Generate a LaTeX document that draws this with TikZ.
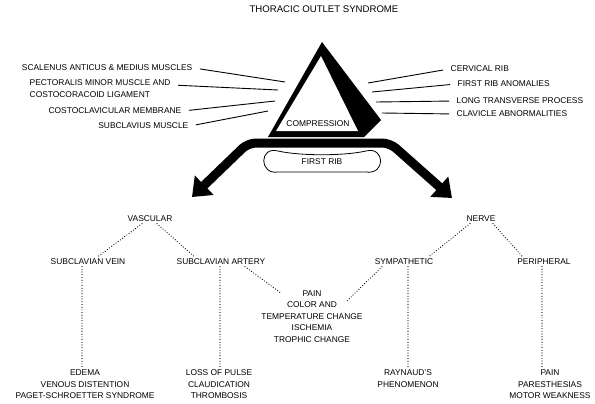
\documentclass[tikz,border=0pt]{standalone}
\usepackage{fontspec}
\setmainfont{Liberation Sans}
\usepackage{tikz}
\usetikzlibrary{arrows.meta, calc}
\tikzset{
  lbl/.style={font=\fontsize{8.4}{11.6}\selectfont, inner sep=1.5pt},
  leader/.style={line width=0.9pt, shorten <=6pt},
  dotline/.style={line width=1.2pt, line cap=round, dash pattern=on 0pt off 2.7pt}
}

\begin{document}
\begin{tikzpicture}[x=1pt, y=-1pt]
        \useasboundingbox (0,0) rectangle (595,404);
        \node[font=\fontsize{9.6}{11}\selectfont] (title) at (324,9) {THORACIC OUTLET SYNDROME};

        % compression triangle
        \fill (322,42) -- (381,120) -- (364,137) -- (268,137) -- cycle;
        \fill[white] (321,56) -- (358,131) -- (276,131) -- cycle;
        \node[lbl] (comp) at (318,124) {COMPRESSION};

        % band with the two arrows
        \draw[line width=9pt, rounded corners=8pt, {Triangle[width=26pt,length=17pt]}-{Triangle[width=26pt,length=17pt]}]
          (192,197) -- (248,143) -- (390,143) -- (452,198);

        % first rib
        \node[lbl] (rib) at (322,162) {FIRST RIB};
        \draw[line width=0.8pt] (278,151) .. controls (300,156) and (344,156) .. (366,151)
          .. controls (385,146) and (386,175) .. (366,172) -- (278,172)
          .. controls (259,175) and (259,146) .. (278,151) -- cycle;

        % points on the triangle
        \coordinate (t1) at (285,82);
        \coordinate (t2) at (278,90);
        \coordinate (t3) at (275,101);
        \coordinate (t4) at (268,111);
        \coordinate (s1) at (368,83);
        \coordinate (s2) at (372,92);
        \coordinate (s3) at (376,102);
        \coordinate (s4) at (382,113);

        % left causes
        \node[lbl, anchor=east] (scal) at (194,68) {SCALENUS ANTICUS \& MEDIUS MUSCLES};
        \node[lbl, anchor=north west, align=left] (pect) at (28,78) {PECTORALIS MINOR MUSCLE AND\\COSTOCORACOID LIGAMENT};
        \node[lbl, anchor=east] (memb) at (183,111) {COSTOCLAVICULAR MEMBRANE};
        \node[lbl, anchor=east] (subm) at (190,126) {SUBCLAVIUS MUSCLE};
        \draw[leader] (scal.east) -- (t1);
        \draw[leader] ($(pect.north east)+(0,7)$) -- (t2);
        \draw[leader] (memb.east) -- (t3);
        \draw[leader] (subm.east) -- (t4);

        % right causes
        \node[lbl, anchor=west] (cerv) at (449,69) {CERVICAL RIB};
        \node[lbl, anchor=west] (anom) at (456,84) {FIRST RIB ANOMALIES};
        \node[lbl, anchor=west] (proc) at (455,101) {LONG TRANSVERSE PROCESS};
        \node[lbl, anchor=west] (clav) at (455,114) {CLAVICLE ABNORMALITIES};
        \draw[leader] (cerv.west) -- (s1);
        \draw[leader] (anom.west) -- (s2);
        \draw[leader] (proc.west) -- (s3);
        \draw[leader] (clav.west) -- (s4);

        % tree
        \node[lbl] (vasc) at (150,219) {VASCULAR};
        \node[lbl] (nerve) at (481,219) {NERVE};
        \node[lbl] (vein) at (88,262) {SUBCLAVIAN VEIN};
        \node[lbl] (artery) at (221,262) {SUBCLAVIAN ARTERY};
        \node[lbl] (symp) at (404,262) {SYMPATHETIC};
        \node[lbl] (periph) at (544,262) {PERIPHERAL};
        \node[lbl, align=center] (mid) at (312,316.5) {PAIN\\COLOR AND\\TEMPERATURE CHANGE\\ISCHEMIA\\TROPHIC CHANGE};
        \node[lbl, align=center] (edema) at (85,384.5) {EDEMA\\VENOUS DISTENTION\\PAGET-SCHROETTER SYNDROME};
        \node[lbl, align=center] (loss) at (219,384.5) {LOSS OF PULSE\\CLAUDICATION\\THROMBOSIS};
        \node[lbl, align=center] (rayn) at (408,378.5) {RAYNAUD'S\\PHENOMENON};
        \node[lbl, align=center] (pain) at (550,384.5) {PAIN\\PARESTHESIAS\\MOTOR WEAKNESS};

        \draw[dotline] ([xshift=-8pt]vasc.south) -- ([xshift=9pt]vein.north);
        \draw[dotline] ([xshift=7pt]vasc.south) -- ([xshift=-26pt]artery.north);
        \draw[dotline] ([xshift=-11pt]nerve.south) -- ([xshift=24pt]symp.north);
        \draw[dotline] ([xshift=12pt]nerve.south) -- ([xshift=-21pt]periph.north);
        \draw[dotline] ([xshift=-6pt]vein.south) -- ([xshift=-6pt]vein.south |- edema.north);
        \draw[dotline] ([xshift=-1pt]artery.south) -- ([xshift=-1pt]artery.south |- loss.north);
        \draw[dotline] ([xshift=24pt]artery.south) -- ($(mid.north west)+(22,5)$);
        \draw[dotline] ([xshift=4pt]symp.south) -- ([xshift=4pt]symp.south |- rayn.north);
        \draw[dotline] ([xshift=-22pt]symp.south) -- ($(mid.north east)+(-17,12)$);
        \draw[dotline] ([xshift=-2pt]periph.south) -- ([xshift=-2pt]periph.south |- pain.north);
    \end{tikzpicture}
\end{document}
